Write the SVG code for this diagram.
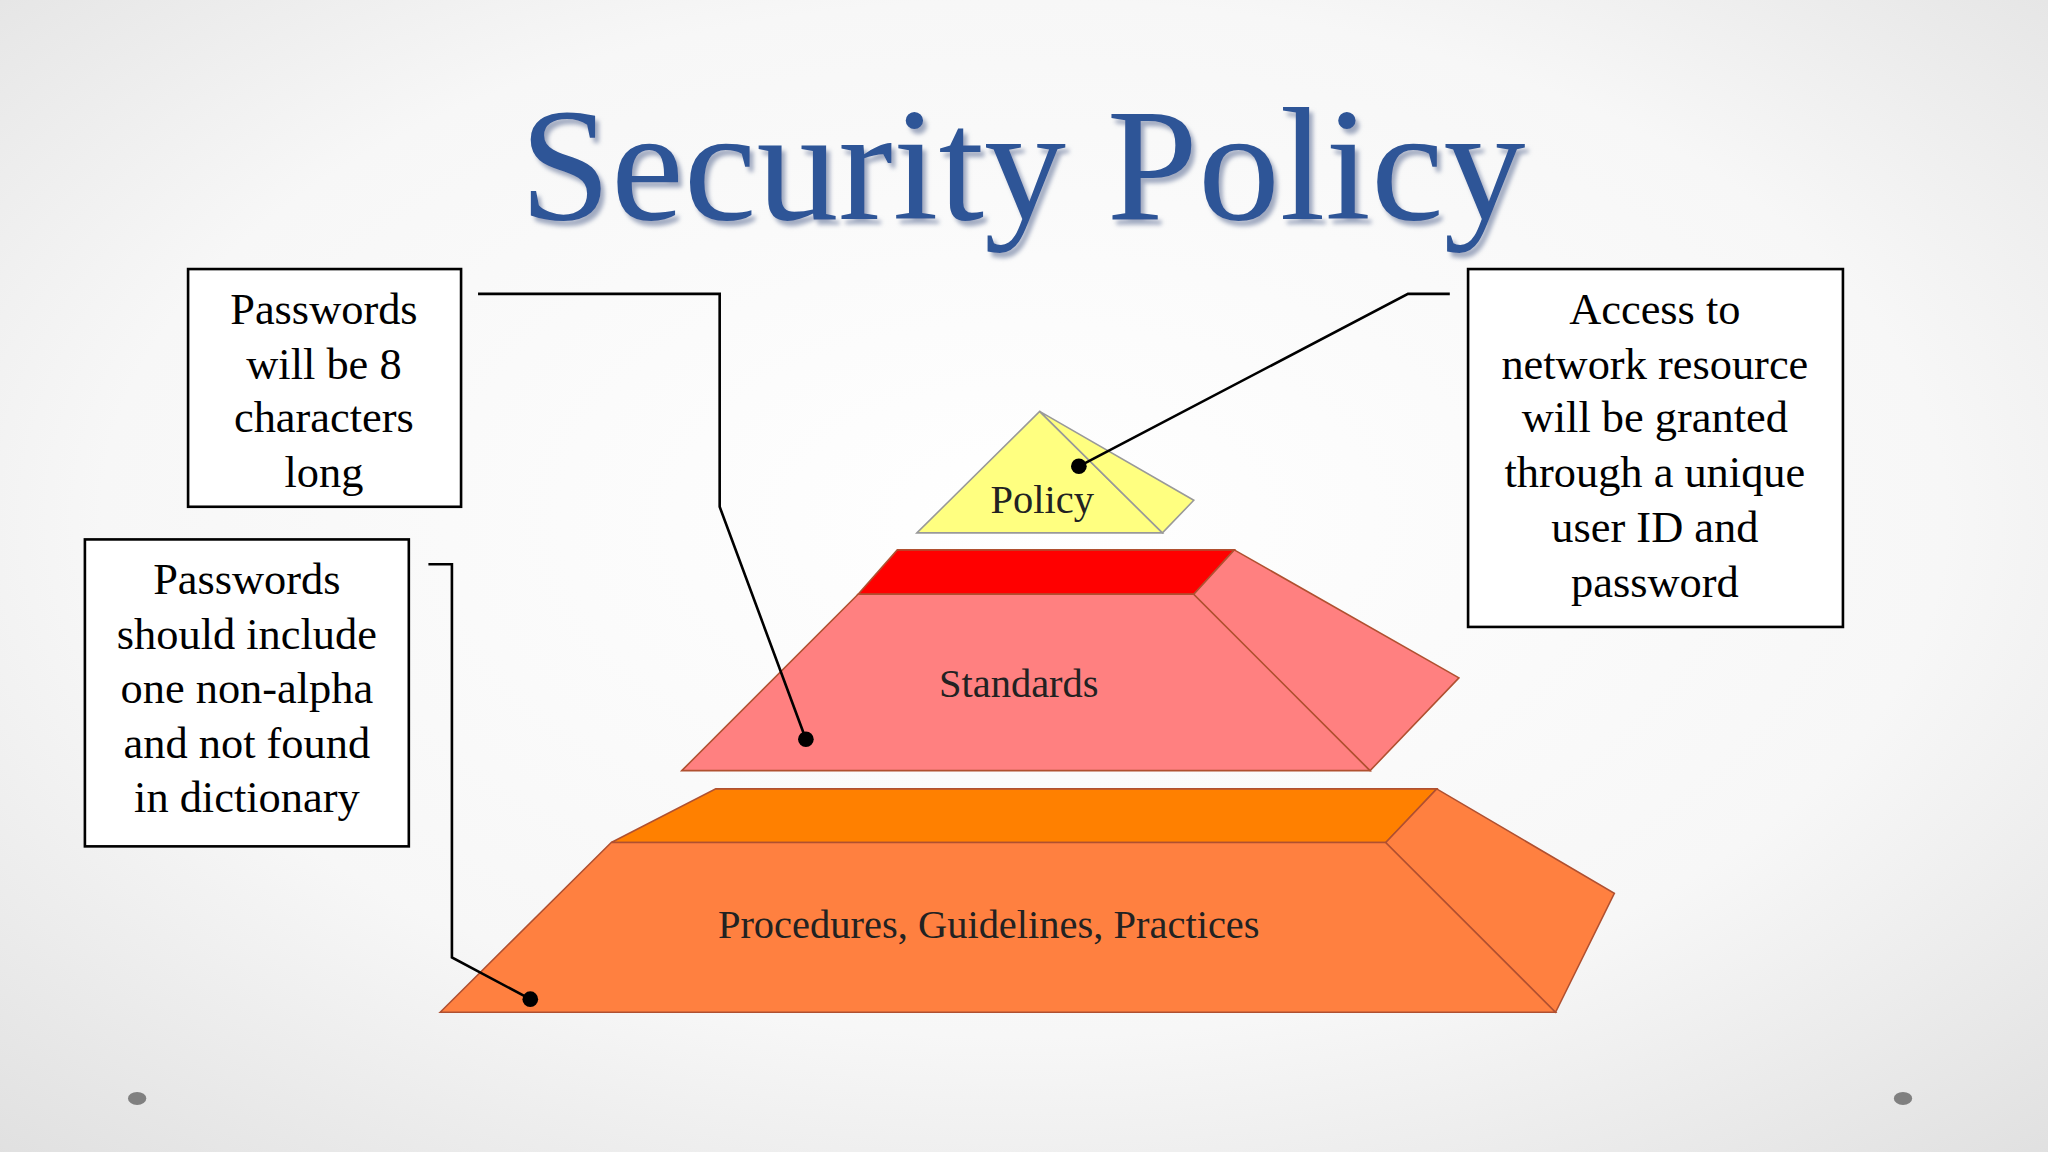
<svg xmlns="http://www.w3.org/2000/svg" width="2048" height="1152" viewBox="0 0 2048 1152">
<defs>
<radialGradient id="bg" cx="0.5" cy="0.45" r="0.75">
<stop offset="0" stop-color="#ffffff"/><stop offset="0.6" stop-color="#f7f7f7"/><stop offset="1" stop-color="#e0e0e0"/>
</radialGradient>
<filter id="sh" x="-5%" y="-20%" width="110%" height="140%">
<feDropShadow dx="3" dy="4" stdDeviation="1.5" flood-color="#7a88a8" flood-opacity="0.7"/>
</filter>
<style>
.box{fill:#fff;stroke:#000;stroke-width:2}
.bt{font-family:"Liberation Serif",serif;font-size:34px;text-anchor:middle;fill:#000}
.lbl{font-family:"Liberation Serif",serif;font-size:31px;text-anchor:middle;fill:#222}
.con{fill:none;stroke:#000;stroke-width:2}
.face{stroke:#b05030;stroke-width:1.2}
</style>
</defs>
<rect width="2048" height="1152" fill="url(#bg)"/>
<g transform="scale(1.30612)">
<text x="783" y="168" font-family="Liberation Serif,serif" font-size="124" text-anchor="middle" fill="#2E5597" textLength="770" lengthAdjust="spacingAndGlyphs" filter="url(#sh)">Security Policy</text>
<g id="pyramid">
<g id="procedures">
<polygon class="face" points="468,645 548,604 1100,604 1061,645" fill="#FF8000"/>
<polygon class="face" points="337,775 468,645 1061,645 1191,775" fill="#FF8040"/>
<polygon class="face" points="1061,645 1100,604 1236,684 1191,775" fill="#FF8040"/>
<text class="lbl" x="757" y="718">Procedures, Guidelines, Practices</text>
</g>
<g id="standards">
<polygon class="face" points="657,455 687,421 945,421 914,455" fill="#FF0000"/>
<polygon class="face" points="522,590 657,455 914,455 1049,590" fill="#FF8080"/>
<polygon class="face" points="914,455 945,421 1117,519 1049,590" fill="#FF8080"/>
<text class="lbl" x="780" y="534">Standards</text>
</g>
<g id="policy">
<polygon points="702,408 796,315 890,408" fill="#FFFF80" stroke="#999" stroke-width="1.2"/>
<polygon points="796,315 914,383 890,408" fill="#FFFF80" stroke="#999" stroke-width="1.2"/>
<text class="lbl" x="798" y="393">Policy</text>
</g>
</g>
<g id="connectors">
<polyline class="con" points="366,225 551,225 551,388 617,566"/>
<circle cx="617" cy="566" r="6"/>
<polyline class="con" points="328,432 346,432 346,733 406,765"/>
<circle cx="406" cy="765" r="6"/>
<polyline class="con" points="1110,225 1078,225 826,357"/>
<circle cx="826" cy="357" r="6"/>
</g>
<g id="box1">
<rect class="box" x="144" y="206" width="209" height="182"/>
<text class="bt" x="248" y="248">Passwords</text>
<text class="bt" x="248" y="290">will be 8</text>
<text class="bt" x="248" y="331">characters</text>
<text class="bt" x="248" y="373">long</text>
</g>
<g id="box2">
<rect class="box" x="65" y="413" width="248" height="235"/>
<text class="bt" x="189" y="455">Passwords</text>
<text class="bt" x="189" y="497">should include</text>
<text class="bt" x="189" y="538">one non-alpha</text>
<text class="bt" x="189" y="580">and not found</text>
<text class="bt" x="189" y="622">in dictionary</text>
</g>
<g id="box3">
<rect class="box" x="1124" y="206" width="287" height="274"/>
<text class="bt" x="1267" y="248">Access to</text>
<text class="bt" x="1267" y="290">network resource</text>
<text class="bt" x="1267" y="331">will be granted</text>
<text class="bt" x="1267" y="373">through a unique</text>
<text class="bt" x="1267" y="415">user ID and</text>
<text class="bt" x="1267" y="457">password</text>
</g>
<ellipse cx="105" cy="841" rx="7" ry="5" fill="#808080"/>
<ellipse cx="1457" cy="841" rx="7" ry="5" fill="#808080"/>
</g>
</svg>
